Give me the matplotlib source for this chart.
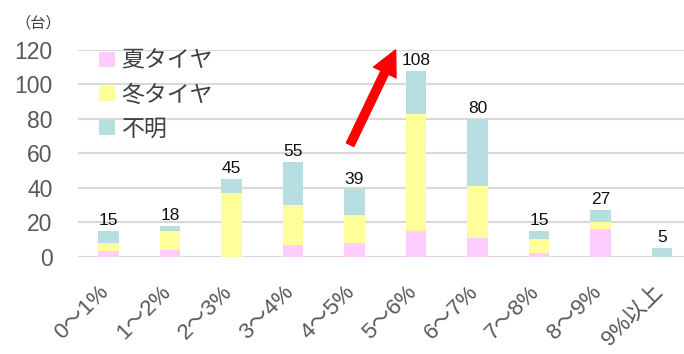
import matplotlib.pyplot as plt
import matplotlib.transforms as mtransforms
import numpy as np

plt.rcParams['font.family'] = ['Liberation Sans', 'Noto Sans CJK JP']

categories = ['0～1%', '1～2%', '2～3%', '3～4%', '4～5%',
              '5～6%', '6～7%', '7～8%', '8～9%', '9%以上']
summer = [3, 4, 0, 7, 8, 15, 11, 2, 16, 0]
winter = [5, 11, 37, 23, 16, 68, 30, 8, 4, 0]
unknown = [7, 3, 8, 25, 15, 25, 39, 5, 7, 5]
totals = [15, 18, 45, 55, 39, 108, 80, 15, 27, 5]

summer = np.array(summer)
winter = np.array(winter)
unknown = np.array(unknown)
x = np.arange(len(categories))

fig = plt.figure(figsize=(6.84, 3.54), dpi=100)
ax = fig.add_axes([0.1136, 0.275, 0.8864, 0.584])

w = 0.33
ax.bar(x, summer, w, color='#FFCCFF', label='夏タイヤ', zorder=3)
ax.bar(x, winter, w, bottom=summer, color='#FFFF99', label='冬タイヤ', zorder=3)
ax.bar(x, unknown, w, bottom=summer + winter, color='#B7DEE1', label='不明', zorder=3)

for xi, t in zip(x, totals):
    ax.annotate(str(t), (xi, t), xytext=(0, 2), textcoords='offset points',
                ha='center', va='bottom', fontsize=12.5, color='#111111', zorder=4)

ax.set_ylim(0, 120)
ax.set_xlim(-0.5, 9.36)
ax.set_yticks(range(0, 121, 20))
ax.yaxis.grid(True, color='#D9D9D9', linewidth=1.5, zorder=0)
for s in ['top', 'right', 'left', 'bottom']:
    ax.spines[s].set_visible(False)
ax.tick_params(axis='both', length=0, colors='#595959')
ax.tick_params(axis='y', labelsize=16.5, pad=18)
ax.set_xticks(x)
ax.set_xticklabels(categories, rotation=45, ha='right', fontsize=16)
ax.tick_params(axis='x', pad=18)
offset = mtransforms.ScaledTranslation(5 / 100, 0, fig.dpi_scale_trans)
for lab in ax.get_xticklabels():
    lab.set_transform(lab.get_transform() + offset)

fig.text(0.022, 0.935, '（台）', fontsize=11, color='#404040', va='center')

ax.legend(loc='upper left', bbox_to_anchor=(0.017, 1.058), frameon=False,
          fontsize=16.5, handlelength=0.66, handleheight=0.66,
          handletextpad=0.3, labelspacing=0.48, borderpad=0,
          labelcolor='#404040')

ax.annotate('', xy=(4.67, 120), xytext=(3.93, 65),
            arrowprops=dict(facecolor='red', edgecolor='red', width=6,
                            headwidth=18, headlength=18),
            annotation_clip=False, zorder=5)

plt.savefig('out.png', dpi=100)
